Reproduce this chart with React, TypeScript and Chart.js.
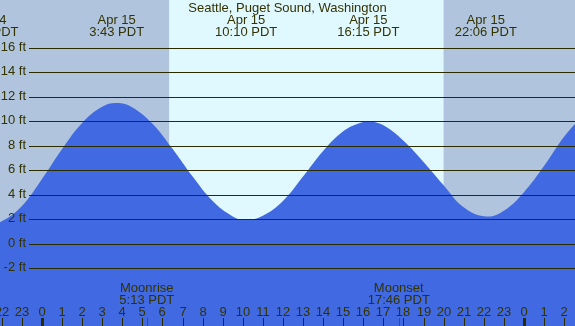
import React, { useEffect, useRef } from "react";
import { Chart, registerables } from "chart.js";

Chart.register(...registerables);

// Tide curve (hours relative to Apr 15 00:00 PDT, height in ft)
const tideHours = [-3.5, -2.72, -2, -1, 0, 1, 2, 3, 3.717, 4.5, 5.5, 6.5, 7.5, 8.5, 9.5, 10.167, 11, 12, 13, 14, 15, 15.7, 16.25, 17, 18, 19, 20, 21, 22.1, 23, 24, 25, 26, 27];
const tideFeet = [1.8, 1.6, 1.85, 3.1, 5.3, 7.75, 9.88, 11.2, 11.5, 11.15, 9.82, 7.77, 5.5, 3.5, 2.25, 1.95, 2.3, 3.5, 5.5, 7.59, 9.2, 9.8, 10.0, 9.69, 8.43, 6.7, 4.8, 3.0, 2.25, 2.72, 4.23, 6.36, 8.75, 10.6];

// High / low tide labels
const eventHours = [-2.72, 3.717, 10.167, 16.25, 22.1];
const eventDates = ["Apr 14", "Apr 15", "Apr 15", "Apr 15", "Apr 15"];
const eventTimes = ["21:17 PDT", "3:43 PDT", "10:10 PDT", "16:15 PDT", "22:06 PDT"];

// Moon events
const moonHours = [5.217, 17.767];
const moonNames = ["Moonrise", "Moonset"];
const moonTimes = ["5:13 PDT", "17:46 PDT"];

// Daylight
const sunriseHour = 6.33;
const sunsetHour = 20.0;

// Axis ticks
const feetTicks = [-2, 0, 2, 4, 6, 8, 10, 12, 14, 16];
const hourTicks = [-2, -1, 0, 1, 2, 3, 4, 5, 6, 7, 8, 9, 10, 11, 12, 13, 14, 15, 16, 17, 18, 19, 20, 21, 22, 23, 24, 25, 26];

const title = "Seattle, Puget Sound, Washington";

const X_MIN = -2.092;
const X_MAX = 26.544;
const Y_MIN = -6.694;
const Y_MAX = 19.918;

const TEXT = "#333300";
const LINE = "#2b2b00";
const FONT = "13px 'Liberation Sans', Arial, sans-serif";

export default function App() {
  const ref = useRef<HTMLCanvasElement>(null);

  useEffect(() => {
    document.body.style.margin = "0";
    const canvas = ref.current;
    if (!canvas) return;

    const decor = {
      id: "tideDecor",
      beforeDatasetsDraw(chart: any) {
        const ctx = chart.ctx;
        const xs = chart.scales.x;
        const { top, bottom, left, right } = chart.chartArea;
        ctx.save();
        ctx.fillStyle = "#b0c4de";
        ctx.fillRect(left, top, right - left, bottom - top);
        const x1 = xs.getPixelForValue(sunriseHour);
        const x2 = xs.getPixelForValue(sunsetHour);
        ctx.fillStyle = "#e0f8ff";
        ctx.fillRect(x1, top, x2 - x1, bottom - top);
        ctx.restore();
      },
      afterDatasetsDraw(chart: any) {
        const ctx = chart.ctx;
        const xs = chart.scales.x;
        const ys = chart.scales.y;
        const { right, bottom } = chart.chartArea;
        ctx.save();
        ctx.strokeStyle = LINE;
        ctx.lineWidth = 1;
        ctx.font = FONT;
        ctx.fillStyle = TEXT;
        ctx.textAlign = "right";
        ctx.textBaseline = "middle";
        feetTicks.forEach((f) => {
          const y = Math.round(ys.getPixelForValue(f)) + 0.5;
          ctx.beginPath();
          ctx.moveTo(29, y);
          ctx.lineTo(right, y);
          ctx.stroke();
          ctx.fillText(f + " ft", 26, y - 1);
        });
        ctx.textAlign = "center";
        ctx.textBaseline = "alphabetic";
        ctx.fillText(title, 287.5, 12);
        eventHours.forEach((h, i) => {
          const x = xs.getPixelForValue(h);
          ctx.fillText(eventDates[i], x, 24);
          ctx.fillText(eventTimes[i], x, 36);
        });
        moonHours.forEach((h, i) => {
          const x = xs.getPixelForValue(h);
          ctx.fillText(moonNames[i], x, 292);
          ctx.fillText(moonTimes[i], x, 304);
        });
        hourTicks.forEach((h) => {
          const x = Math.round(xs.getPixelForValue(h));
          const lbl = (((h % 24) + 24) % 24).toString();
          ctx.fillStyle = TEXT;
          ctx.fillText(lbl, x, 316);
          ctx.fillStyle = LINE;
          const w = lbl === "0" ? 3 : 1;
          ctx.fillRect(x - Math.floor(w / 2), 318, w, bottom - 318);
        });
        ctx.fillStyle = "#ff0000";
        moonHours.forEach((h) => {
          const x = Math.round(xs.getPixelForValue(h));
          ctx.fillRect(x, 318, 1, bottom - 318);
        });
        ctx.restore();
      },
    };

    const chart = new Chart(canvas, {
      type: "line",
      data: {
        datasets: [
          {
            data: tideHours.map((h, i) => ({ x: h, y: tideFeet[i] })),
            fill: "start",
            backgroundColor: "#4169e1",
            borderColor: "#4169e1",
            borderWidth: 0,
            pointRadius: 0,
            tension: 0.4,
          },
        ],
      },
      options: {
        responsive: false,
        animation: false,
        layout: { padding: 0 },
        plugins: { legend: { display: false }, tooltip: { enabled: false }, title: { display: false } },
        scales: {
          x: { type: "linear", min: X_MIN, max: X_MAX, display: false },
          y: { type: "linear", min: Y_MIN, max: Y_MAX, display: false },
        },
      },
      plugins: [decor],
    });
    return () => chart.destroy();
  }, []);

  return (
    <div style={{ width: 575, height: 326 }}>
      <canvas ref={ref} width={575} height={326} />
    </div>
  );
}
